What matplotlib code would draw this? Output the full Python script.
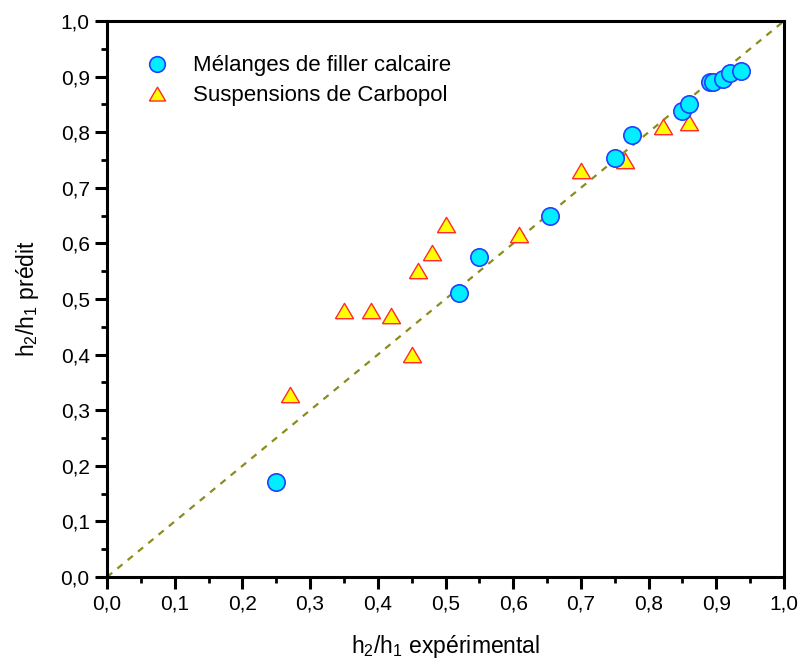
import matplotlib.pyplot as plt
from matplotlib.ticker import MultipleLocator, FuncFormatter

plt.rcParams['font.family'] = ['Liberation Sans', 'DejaVu Sans']
plt.rcParams['mathtext.fontset'] = 'custom'
plt.rcParams['mathtext.rm'] = 'Liberation Sans'

# Mélanges de filler calcaire
calc_exp = [0.25, 0.52, 0.55, 0.655, 0.75, 0.775, 0.85, 0.86, 0.89, 0.895, 0.91, 0.92, 0.937]
calc_pred = [0.17, 0.511, 0.576, 0.649, 0.754, 0.795, 0.838, 0.850, 0.890, 0.890, 0.896, 0.906, 0.910]

# Suspensions de Carbopol
carb_exp = [0.27, 0.35, 0.39, 0.42, 0.45, 0.46, 0.48, 0.50, 0.608, 0.70, 0.765, 0.822, 0.86]
carb_pred = [0.327, 0.478, 0.478, 0.469, 0.399, 0.551, 0.583, 0.633, 0.615, 0.731, 0.748, 0.809, 0.816]

# wider, flatter triangle than the built-in '^'
tri = [(-1, -0.8), (1, -0.8), (0, 0.9), (-1, -0.8)]

fig = plt.figure(figsize=(8.03, 6.67), dpi=100)
ax = fig.add_axes([0.1333, 0.1349, 0.8430, 0.8336])

ax.plot([0, 1], [0, 1], color='#8c8c1e', linestyle=(0, (3, 3)), linewidth=1.6, zorder=1)

ax.plot(carb_exp, carb_pred, linestyle='none', marker=tri, markersize=13,
        markerfacecolor='#ffff00', markeredgecolor='#ff2a2a', markeredgewidth=1.0,
        label='Suspensions de Carbopol', zorder=2)
ax.plot(calc_exp, calc_pred, linestyle='none', marker='o', markersize=12.5,
        markerfacecolor='#00eeff', markeredgecolor='#2040ff', markeredgewidth=1.2,
        label='Mélanges de filler calcaire', zorder=3)

ax.set_xlim(0, 1)
ax.set_ylim(0, 1)
ax.xaxis.set_major_locator(MultipleLocator(0.1))
ax.yaxis.set_major_locator(MultipleLocator(0.1))
ax.xaxis.set_minor_locator(MultipleLocator(0.05))
ax.yaxis.set_minor_locator(MultipleLocator(0.05))
fmt = FuncFormatter(lambda v, p: f'{v:.1f}'.replace('.', ','))
ax.xaxis.set_major_formatter(fmt)
ax.yaxis.set_major_formatter(fmt)

for s in ax.spines.values():
    s.set_linewidth(2.2)
ax.tick_params(which='major', direction='out', length=8.5, width=2.2, labelsize=15, pad=4)
ax.tick_params(which='minor', direction='out', length=4.5, width=2)

ax.set_xlabel('h$_2$/h$_1$ expérimental', fontsize=16.5, labelpad=14)
ax.set_ylabel('h$_2$/h$_1$ prédit', fontsize=16.5, labelpad=14)

handles, labels = ax.get_legend_handles_labels()
ax.legend(handles[::-1], labels[::-1], loc='upper left', bbox_to_anchor=(0.058, 0.938),
          frameon=False, fontsize=16, handletextpad=1.1, labelspacing=0.4,
          handlelength=1.0, borderpad=0, borderaxespad=0, markerscale=0.9)

fig.savefig('out.png', dpi=100)
